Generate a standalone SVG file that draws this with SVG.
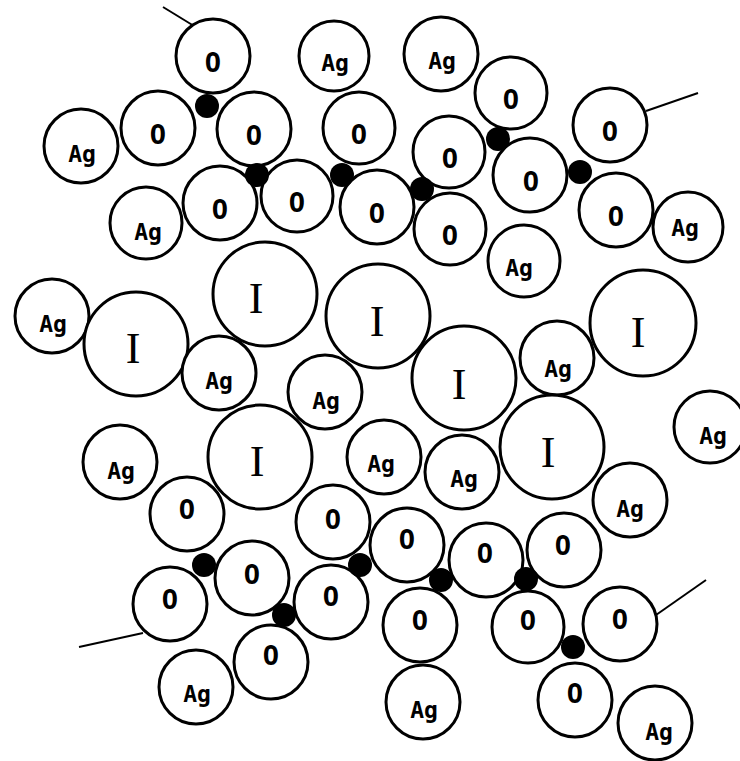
<svg xmlns="http://www.w3.org/2000/svg" width="740" height="761" viewBox="0 0 740 761">
<style>
.c{fill:#fff;stroke:#000;stroke-width:3}
.d{fill:#000}
.t{font-family:"DejaVu Sans Mono","Liberation Mono",monospace;font-weight:bold;font-size:23px;text-anchor:middle;fill:#000}
.t.o{font-size:27px}
.i{font-family:"Liberation Serif","DejaVu Serif",serif;font-size:44px;text-anchor:middle;fill:#000}
.l{stroke:#000;stroke-width:2;fill:none}
</style>
<rect width="740" height="761" fill="#fff"/>
<g id="lines">
<line class="l" x1="163" y1="7" x2="194" y2="26"/>
<line class="l" x1="646" y1="111" x2="698" y2="93"/>
<line class="l" x1="79" y1="647" x2="143" y2="633"/>
<line class="l" x1="656" y1="615" x2="706" y2="580"/>
</g>
<g id="atoms">
<g id="o1"><circle class="c" cx="213" cy="56" r="37"/><text class="t o" x="213" y="72">O</text></g>
<g id="ag1"><circle class="c" cx="334" cy="56" r="35"/><text class="t" x="335" y="71">Ag</text></g>
<g id="ag2"><circle class="c" cx="441" cy="54" r="37"/><text class="t" x="442" y="69">Ag</text></g>
<g id="o2"><circle class="c" cx="511" cy="93" r="36"/><text class="t o" x="511" y="109">O</text></g>
<g id="o3"><circle class="c" cx="610" cy="125" r="37"/><text class="t o" x="610" y="141">O</text></g>
<g id="ag3"><circle class="c" cx="81" cy="146" r="37"/><text class="t" x="82" y="162">Ag</text></g>
<g id="o4"><circle class="c" cx="158" cy="128" r="37"/><text class="t o" x="158" y="144">O</text></g>
<g id="o5"><circle class="c" cx="254" cy="129" r="37"/><text class="t o" x="254" y="145">O</text></g>
<g id="o6"><circle class="c" cx="359" cy="128" r="36"/><text class="t o" x="359" y="144">O</text></g>
<g id="o7"><circle class="c" cx="449" cy="152" r="36"/><text class="t o" x="450" y="168">O</text></g>
<g id="o8"><circle class="c" cx="530" cy="175" r="37"/><text class="t o" x="531" y="191">O</text></g>
<g id="o9"><circle class="c" cx="220" cy="203" r="37"/><text class="t o" x="220" y="219">O</text></g>
<g id="o10"><circle class="c" cx="297" cy="196" r="36"/><text class="t o" x="297" y="212">O</text></g>
<g id="o11"><circle class="c" cx="377" cy="207" r="37"/><text class="t o" x="377" y="223">O</text></g>
<g id="o12"><circle class="c" cx="450" cy="229" r="36"/><text class="t o" x="450" y="245">O</text></g>
<g id="o13"><circle class="c" cx="616" cy="210" r="37"/><text class="t o" x="616" y="226">O</text></g>
<g id="ag4"><circle class="c" cx="688" cy="227" r="35"/><text class="t" x="685" y="236">Ag</text></g>
<g id="ag5"><circle class="c" cx="146" cy="223" r="36"/><text class="t" x="148" y="240">Ag</text></g>
<g id="ag6"><circle class="c" cx="524" cy="261" r="36"/><text class="t" x="519" y="276">Ag</text></g>
<g id="ag7"><circle class="c" cx="52" cy="316" r="37"/><text class="t" x="53" y="332">Ag</text></g>
<g id="i1"><circle class="c" cx="136" cy="344" r="52"/><text class="i" x="133" y="363">I</text></g>
<g id="i2"><circle class="c" cx="265" cy="294" r="52"/><text class="i" x="256" y="313">I</text></g>
<g id="i3"><circle class="c" cx="378" cy="316" r="52"/><text class="i" x="377" y="336">I</text></g>
<g id="i4"><circle class="c" cx="643" cy="323" r="53"/><text class="i" x="638" y="347">I</text></g>
<g id="ag8"><circle class="c" cx="219" cy="373" r="37"/><text class="t" x="219" y="389">Ag</text></g>
<g id="ag9"><circle class="c" cx="325" cy="392" r="37"/><text class="t" x="326" y="409">Ag</text></g>
<g id="i5"><circle class="c" cx="464" cy="378" r="52"/><text class="i" x="459" y="399">I</text></g>
<g id="ag10"><circle class="c" cx="557" cy="358" r="37"/><text class="t" x="558" y="377">Ag</text></g>
<g id="ag11"><circle class="c" cx="710" cy="427" r="36"/><text class="t" x="713" y="444">Ag</text></g>
<g id="i6"><circle class="c" cx="260" cy="457" r="52"/><text class="i" x="257" y="476">I</text></g>
<g id="ag12"><circle class="c" cx="120" cy="462" r="37"/><text class="t" x="121" y="479">Ag</text></g>
<g id="ag13"><circle class="c" cx="384" cy="457" r="37"/><text class="t" x="381" y="472">Ag</text></g>
<g id="ag14"><circle class="c" cx="462" cy="472" r="37"/><text class="t" x="464" y="487">Ag</text></g>
<g id="i7"><circle class="c" cx="552" cy="447" r="52"/><text class="i" x="548" y="467">I</text></g>
<g id="ag15"><circle class="c" cx="630" cy="500" r="37"/><text class="t" x="630" y="517">Ag</text></g>
<g id="o14"><circle class="c" cx="187" cy="514" r="37"/><text class="t o" x="187" y="519">O</text></g>
<g id="o15"><circle class="c" cx="333" cy="522" r="37"/><text class="t o" x="333" y="529">O</text></g>
<g id="o16"><circle class="c" cx="407" cy="545" r="37"/><text class="t o" x="407" y="549">O</text></g>
<g id="o17"><circle class="c" cx="486" cy="560" r="37"/><text class="t o" x="485" y="563">O</text></g>
<g id="o18"><circle class="c" cx="564" cy="550" r="37"/><text class="t o" x="563" y="555">O</text></g>
<g id="o19"><circle class="c" cx="252" cy="578" r="37"/><text class="t o" x="252" y="584">O</text></g>
<g id="o20"><circle class="c" cx="170" cy="604" r="37"/><text class="t o" x="170" y="609">O</text></g>
<g id="o21"><circle class="c" cx="331" cy="602" r="37"/><text class="t o" x="331" y="606">O</text></g>
<g id="o22"><circle class="c" cx="420" cy="625" r="37"/><text class="t o" x="420" y="630">O</text></g>
<g id="o23"><circle class="c" cx="528" cy="627" r="36"/><text class="t o" x="528" y="630">O</text></g>
<g id="o24"><circle class="c" cx="620" cy="624" r="37"/><text class="t o" x="620" y="629">O</text></g>
<g id="o25"><circle class="c" cx="271" cy="662" r="37"/><text class="t o" x="271" y="665">O</text></g>
<g id="ag16"><circle class="c" cx="196" cy="687" r="37"/><text class="t" x="197" y="702">Ag</text></g>
<g id="ag17"><circle class="c" cx="423" cy="702" r="37"/><text class="t" x="424" y="718">Ag</text></g>
<g id="o26"><circle class="c" cx="575" cy="700" r="37"/><text class="t o" x="575" y="703">O</text></g>
<g id="ag18"><circle class="c" cx="655" cy="723" r="37"/><text class="t" x="659" y="740">Ag</text></g>
</g>
<g id="dots">
<circle class="d" cx="207" cy="106" r="12"/>
<circle class="d" cx="257" cy="175" r="12"/>
<circle class="d" cx="342" cy="175" r="12"/>
<circle class="d" cx="422" cy="189" r="12"/>
<circle class="d" cx="498" cy="139" r="12"/>
<circle class="d" cx="580" cy="172" r="12"/>
<circle class="d" cx="204" cy="565" r="12"/>
<circle class="d" cx="284" cy="615" r="12"/>
<circle class="d" cx="360" cy="565" r="12"/>
<circle class="d" cx="441" cy="580" r="12"/>
<circle class="d" cx="526" cy="579" r="12"/>
<circle class="d" cx="573" cy="647" r="12"/>
</g>
</svg>
